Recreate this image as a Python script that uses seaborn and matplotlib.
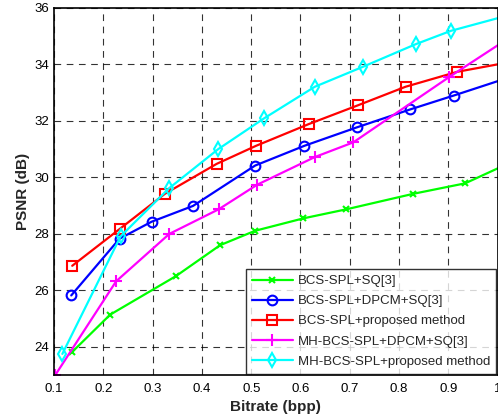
import numpy as np
import pandas as pd
import matplotlib
matplotlib.use("Agg")
import matplotlib.pyplot as plt
import seaborn as sns

# values (last point of each series lies just past x=1)
bcs_sq_x = [0.137, 0.214, 0.347, 0.437, 0.508, 0.606, 0.693, 0.829, 0.934, 1.03]
bcs_sq_y = [23.82, 25.14, 26.50, 27.60, 28.11, 28.55, 28.87, 29.42, 29.79, 30.56]

bcs_dpcm_x = [0.135, 0.233, 0.298, 0.382, 0.508, 0.608, 0.714, 0.823, 0.911, 1.03]
bcs_dpcm_y = [25.82, 27.83, 28.43, 28.99, 30.42, 31.12, 31.77, 32.41, 32.90, 33.58]

bcs_prop_x = [0.137, 0.233, 0.325, 0.430, 0.510, 0.617, 0.716, 0.813, 0.918, 1.03]
bcs_prop_y = [26.87, 28.17, 29.42, 30.48, 31.12, 31.89, 32.55, 33.21, 33.74, 34.10]

mh_dpcm_x = [0.103, 0.226, 0.334, 0.434, 0.512, 0.629, 0.707, 0.902, 1.03]
mh_dpcm_y = [23.01, 26.32, 28.00, 28.87, 29.74, 30.72, 31.24, 33.56, 35.02]

mh_prop_x = [0.117, 0.235, 0.333, 0.433, 0.526, 0.629, 0.727, 0.834, 0.905, 1.03]
mh_prop_y = [23.75, 27.91, 29.61, 31.00, 32.09, 33.21, 33.92, 34.72, 35.19, 35.78]

labels = ["BCS-SPL+SQ[3]", "BCS-SPL+DPCM+SQ[3]", "BCS-SPL+proposed method",
          "MH-BCS-SPL+DPCM+SQ[3]", "MH-BCS-SPL+proposed method"]
xs = [bcs_sq_x, bcs_dpcm_x, bcs_prop_x, mh_dpcm_x, mh_prop_x]
ys = [bcs_sq_y, bcs_dpcm_y, bcs_prop_y, mh_dpcm_y, mh_prop_y]

colors = ["#00ff00", "#0000ff", "#ff0000", "#ff00ff", "#00ffff"]
markers = ["x", "o", "s", "+", "d"]
msizes = [4, 7, 7, 9, 7]

sns.set_style("white")
plt.rcParams["font.family"] = ["Liberation Sans", "DejaVu Sans"]

fig = plt.figure(figsize=(4.98, 4.2), dpi=100)
ax = fig.add_axes([0.1084, 0.107, 0.891, 0.874])

for x, y, lab, c, m, ms in zip(xs, ys, labels, colors, markers, msizes):
    df = pd.DataFrame({"x": x, "y": y})
    sns.lineplot(data=df, x="x", y="y", ax=ax, color=c, marker=m, markersize=ms,
                 markerfacecolor="none", markeredgecolor=c, markeredgewidth=1.5,
                 linewidth=1.6, label=lab, sort=False)

ax.set_xlim(0.1, 1.0)
ax.set_ylim(23, 36)
ax.set_xticks(np.arange(0.1, 1.01, 0.1))
ax.set_xticklabels(["0.1", "0.2", "0.3", "0.4", "0.5", "0.6", "0.7", "0.8", "0.9", "1"])
ax.set_yticks([24, 26, 28, 30, 32, 34, 36])
ax.tick_params(direction="in", labelsize=9.5, length=4, colors="black")
ax.tick_params(axis="x", pad=6)
ax.grid(True, color="black", linestyle=(0, (6, 5)), linewidth=0.8, alpha=0.8)
for s in ax.spines.values():
    s.set_color("black")
    s.set_linewidth(1.2)

ax.set_xlabel("Bitrate (bpp)", fontsize=11, fontweight="bold", labelpad=3)
ax.set_ylabel("PSNR (dB)", fontsize=11, fontweight="bold", labelpad=3)

leg = ax.legend(loc="lower right", fontsize=9.5, handlelength=3.1, frameon=True,
                fancybox=False, borderaxespad=0.1, labelspacing=0.6,
                handletextpad=0.4, borderpad=0.45)
leg.get_frame().set_edgecolor("black")
leg.get_frame().set_linewidth(1.0)

fig.savefig("out.png", dpi=100)
